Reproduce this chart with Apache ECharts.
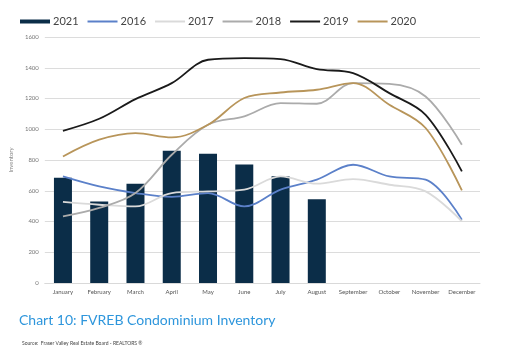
<!DOCTYPE html>
<html>
<head>
<meta charset="utf-8">
<script src="https://cdn.jsdelivr.net/npm/echarts@6/dist/echarts.min.js"></script>
<style>
  html, body { margin: 0; padding: 0; background: #fff; }
  #chart { width: 516px; height: 354px; }
</style>
</head>
<body>
<div id="chart"></div>
<script>
const months = ['January', 'February', 'March', 'April', 'May', 'June', 'July', 'August', 'September', 'October', 'November', 'December'];
const inv2021 = [685, 530, 645, 860, 840, 770, 695, 545];
const inv2016 = [693, 628, 585, 560, 585, 498, 607, 672, 769, 693, 672, 412];
const inv2017 = [527, 509, 498, 585, 596, 607, 693, 646, 676, 639, 596, 401];
const inv2018 = [433, 488, 585, 834, 1029, 1084, 1170, 1166, 1300, 1295, 1213, 899];
const inv2019 = [990, 1068, 1196, 1300, 1452, 1463, 1456, 1391, 1365, 1235, 1094, 726];
const inv2020 = [823, 932, 975, 947, 1029, 1203, 1239, 1257, 1300, 1159, 1008, 602];

const chart = echarts.init(document.getElementById('chart'));

function lineSeries(name, data, color) {
    return {
        name: name,
        type: 'line',
        data: data,
        smooth: 0.35,
        symbol: 'none',
        lineStyle: { color: color, width: 1.8 },
        itemStyle: { color: color }
    };
}

const lineLegend = name => ({ name: name, itemStyle: { opacity: 0 } });

chart.setOption({
    animation: false,
    textStyle: { fontFamily: 'Lato' },
    legend: {
        left: 15,
        top: 11,
        itemWidth: 30,
        itemHeight: 4,
        itemGap: 8,
        textStyle: { fontSize: 11, color: '#444', padding: [0, 0, 0, -2] },
        data: [
            { name: '2021', icon: 'rect' },
            lineLegend('2016'), lineLegend('2017'), lineLegend('2018'),
            lineLegend('2019'), lineLegend('2020')
        ]
    },
    grid: { left: 28, right: 36, top: 37, bottom: 71 },
    xAxis: {
        type: 'category',
        data: months,
        axisLine: { lineStyle: { color: '#d9d9d9' } },
        axisTick: { show: false },
        axisLabel: { fontSize: 6, color: '#555', margin: 6, interval: 0 }
    },
    yAxis: {
        type: 'value',
        min: 0,
        max: 1600,
        interval: 200,
        name: 'Inventory',
        nameLocation: 'middle',
        nameGap: 22,
        nameTextStyle: { fontSize: 6, color: '#888' },
        axisLine: { show: false },
        axisTick: { show: false },
        axisLabel: { fontSize: 6, color: '#777', margin: 6, formatter: v => String(v) },
        splitLine: { lineStyle: { color: '#dcdcdc', width: 1 } }
    },
    title: [
        {
            text: 'Chart 10: FVREB Condominium Inventory',
            left: 14,
            top: 308,
            textStyle: { fontSize: 14, fontWeight: 'normal', color: '#2E96DC', fontFamily: 'Lato' }
        },
        {
            text: 'Source:  Fraser Valley Real Estate Board - REALTORS ®',
            left: 17,
            top: 336,
            textStyle: { fontSize: 5, fontWeight: 'normal', color: '#444', fontFamily: 'Lato' }
        }
    ],
    series: [
        {
            name: '2021',
            type: 'bar',
            data: inv2021,
            barWidth: 18,
            itemStyle: { color: '#0B2D48' }
        },
        lineSeries('2016', inv2016, '#5B80C9'),
        lineSeries('2017', inv2017, '#DADADA'),
        lineSeries('2018', inv2018, '#ABABAB'),
        lineSeries('2019', inv2019, '#1A1A1A'),
        lineSeries('2020', inv2020, '#B8955A')
    ]
});
</script>
</body>
</html>
